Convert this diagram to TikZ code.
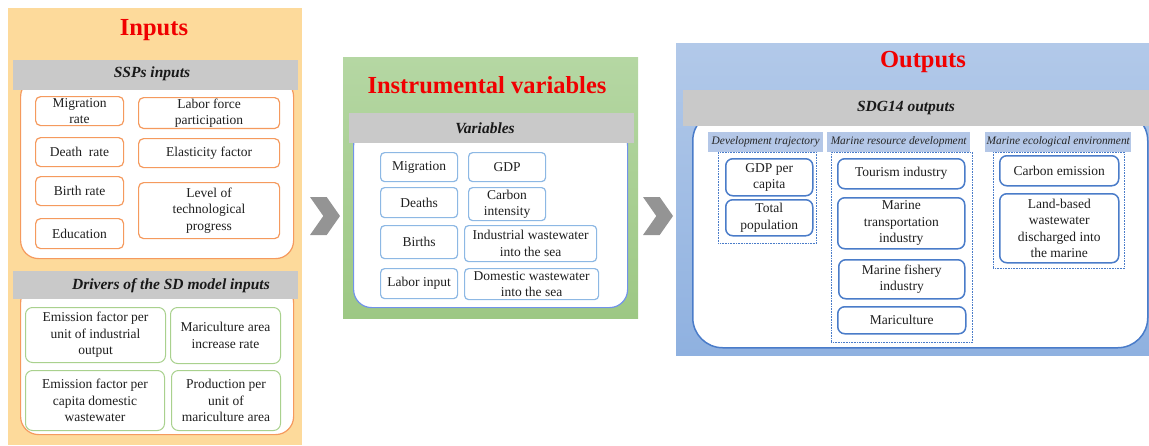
\documentclass[tikz,border=0pt]{standalone}
\usepackage{fontspec}
\setmainfont{Liberation Serif}
\usetikzlibrary{positioning,shapes.symbols}
\definecolor{inbg}{HTML}{FDDA9B}
\definecolor{grbgtop}{HTML}{B5D7A3}
\definecolor{grbgbot}{HTML}{9DC884}
\definecolor{blbgtop}{HTML}{B2C9E9}
\definecolor{blbgbot}{HTML}{8FB1E0}
\definecolor{bargray}{HTML}{C9C9C9}
\definecolor{oline}{HTML}{F59A5E}
\definecolor{gline}{HTML}{A9D18E}
\definecolor{vline}{HTML}{8DB8E4}
\definecolor{bline}{HTML}{4A7CC9}
\definecolor{hdrfill}{HTML}{B4C7E7}
\definecolor{ttlred}{HTML}{F00000}

\begin{document}
\begin{tikzpicture}[
  x=1pt,y=-1pt,
  every node/.style={anchor=north west,inner sep=1pt},
  boxfont/.style={font=\fontsize{13.5}{16.5}\selectfont,text=black!88,align=center},
  panel/.style={draw=none},
  bar/.style={fill=bargray,draw=none},
  pane/.style={fill=white,rounded corners=18pt,line width=1.2pt},
  obox/.style={boxfont,draw=oline,fill=white,rounded corners=5pt,line width=1.2pt},
  gbox/.style={boxfont,draw=gline,fill=white,rounded corners=7pt,line width=1pt},
  vbox/.style={boxfont,draw=vline,fill=white,rounded corners=4pt,line width=1.2pt},
  sdgbox/.style={boxfont,draw=bline,fill=white,rounded corners=7pt,line width=1.5pt},
  hdr/.style={fill=hdrfill,font=\fontsize{11.4}{13}\selectfont\itshape,text=black!85},
  grp/.style={draw=bline,densely dotted,line width=0.6pt},
  ttl/.style={anchor=center,font=\fontsize{24.5}{28}\selectfont\bfseries,text=ttlred},
  bartxt/.style={anchor=center,font=\fontsize{15.5}{18}\selectfont\bfseries\itshape,text=black!90},
  chev/.style={anchor=center,signal,signal to=east,signal from=west,
               signal pointer angle=110,fill=black!42,inner sep=0pt,
               minimum width=30pt,minimum height=38pt},
]
  \useasboundingbox (0,0) rectangle (1149,445);

  % Inputs
  \node[panel,fill=inbg,minimum width=294pt,minimum height=437pt] (inputs) at (8,8) {};
  \node[ttl] (inttl) at (154,30) {Inputs};
  \node[pane,draw=oline,minimum width=273pt,minimum height=180pt] (ssppane) at (20,78) {};
  \node[bar,minimum width=285pt,minimum height=30pt] (sspbar) at (13,60) {};
  \node[bartxt] at (152,74) {SSPs inputs};
  \node[obox,minimum width=88pt,minimum height=29pt] (mig) at (35,96) {Migration\\rate};
  \node[obox,minimum width=141pt,minimum height=29pt] (lab) at (138,97) {Labor force\\participation};
  \node[obox,minimum width=88pt,minimum height=29pt] (dea) at (35,137) {Death\ \ rate};
  \node[obox,minimum width=141pt,minimum height=29pt] (ela) at (138,138) {Elasticity factor};
  \node[obox,minimum width=88pt,minimum height=29pt] (bir) at (35,176) {Birth rate};
  \node[obox,minimum width=141pt,minimum height=56pt] (lev) at (138,182) {Level of\\technological\\progress};
  \node[obox,minimum width=88pt,minimum height=30pt] (edu) at (35,218) {Education};

  \node[pane,draw=oline,minimum width=273pt,minimum height=150pt] (drvpane) at (20,284) {};
  \node[bar,minimum width=285pt,minimum height=28pt] (drvbar) at (13,271) {};
  \node[bartxt] at (171,286) {Drivers of the SD model inputs};
  \node[gbox,minimum width=140pt,minimum height=55pt] (efind) at (25,307) {Emission factor per\\unit of industrial\\output};
  \node[gbox,minimum width=110pt,minimum height=56pt] (mararea) at (170,307) {Mariculture area\\increase rate};
  \node[gbox,minimum width=139pt,minimum height=60pt] (efdom) at (25,370) {Emission factor per\\capita domestic\\wastewater};
  \node[gbox,minimum width=109pt,minimum height=60pt] (prod) at (171,370) {Production per\\unit of\\mariculture area};

  % Instrumental variables
  \node[panel,top color=grbgtop,bottom color=grbgbot,minimum width=295pt,minimum height=261pt] (instr) at (343,57) {};
  \node[ttl] (ivttl) at (487,85) {Instrumental variables};
  \node[pane,draw=vline!80!blue,minimum width=274pt,minimum height=180pt] (varpane) at (353,127) {};
  \node[bar,minimum width=285pt,minimum height=30pt] (varbar) at (349,113) {};
  \node[bartxt] at (485,128) {Variables};
  \node[vbox,minimum width=77pt,minimum height=29pt] (vmig) at (380,152) {Migration};
  \node[vbox,minimum width=77pt,minimum height=29pt] (vgdp) at (468,152) {GDP};
  \node[vbox,minimum width=77pt,minimum height=30pt] (vdea) at (380,187) {Deaths};
  \node[vbox,minimum width=77pt,minimum height=33pt] (vcar) at (468,187) {Carbon\\intensity};
  \node[vbox,minimum width=77pt,minimum height=33pt] (vbir) at (380,225) {Births};
  \node[vbox,minimum width=132pt,minimum height=36pt] (vind) at (464,225) {Industrial wastewater\\into the sea};
  \node[vbox,minimum width=77pt,minimum height=30pt] (vlab) at (380,268) {Labor input};
  \node[vbox,minimum width=134pt,minimum height=31pt] (vdom) at (464,268) {Domestic wastewater\\into the sea};

  % Outputs
  \node[panel,top color=blbgtop,bottom color=blbgbot,minimum width=473pt,minimum height=312pt] (outputs) at (676,43) {};
  \node[ttl] (outttl) at (923,62) {Outputs};
  \node[pane,draw=bline,rounded corners=30pt,line width=1.5pt,minimum width=455pt,minimum height=237pt] (sdgpane) at (692,110) {};
  \node[bar,minimum width=466pt,minimum height=36pt] (sdgbar) at (683,90) {};
  \node[bartxt] at (906,108) {SDG14 outputs};

  \node[grp,minimum width=98pt,minimum height=91pt] (gdev) at (718,152) {};
  \node[grp,minimum width=141pt,minimum height=190pt] (gres) at (831,152) {};
  \node[grp,minimum width=131pt,minimum height=116pt] (geco) at (993,152) {};
  \node[hdr,minimum width=115pt,minimum height=20pt] (hdev) at (708,132) {Development trajectory};
  \node[hdr,minimum width=143pt,minimum height=20pt] (hres) at (827,132) {Marine resource development};
  \node[hdr,minimum width=146pt,minimum height=20pt] (heco) at (985,132) {Marine ecological environment};

  \node[sdgbox,minimum width=87pt,minimum height=37pt] (gdp) at (725,158) {GDP per\\capita};
  \node[sdgbox,minimum width=87pt,minimum height=36pt] (pop) at (725,199) {Total\\population};
  \node[sdgbox,minimum width=127pt,minimum height=30pt] (tour) at (837,158) {Tourism industry};
  \node[sdgbox,minimum width=127pt,minimum height=51pt] (trans) at (837,197) {Marine\\transportation\\industry};
  \node[sdgbox,minimum width=126pt,minimum height=39pt] (fish) at (838,259) {Marine fishery\\industry};
  \node[sdgbox,minimum width=128pt,minimum height=27pt] (maric) at (837,306) {Mariculture};
  \node[sdgbox,minimum width=119pt,minimum height=30pt] (carb) at (999,155) {Carbon emission};
  \node[sdgbox,minimum width=119pt,minimum height=69pt] (land) at (999,193) {Land-based\\wastewater\\discharged into\\the marine};

  % flow between panels
  \node[chev] (chev1) at (325,216) {};
  \node[chev] (chev2) at (658,216) {};
\end{tikzpicture}
\end{document}
